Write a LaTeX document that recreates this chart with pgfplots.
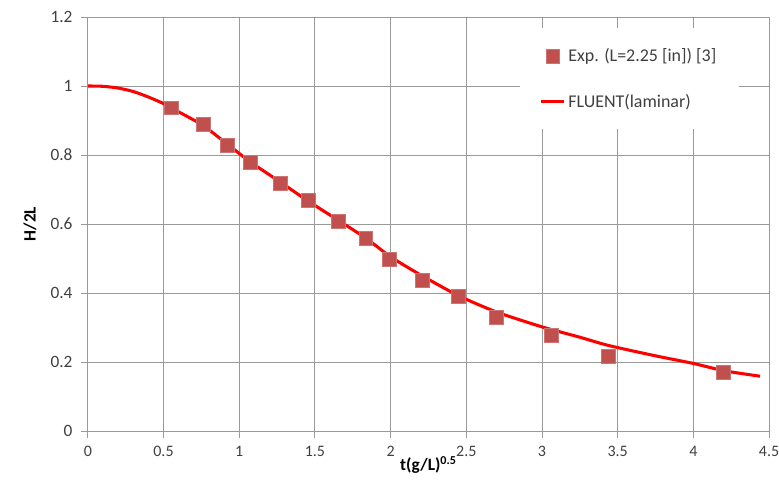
\documentclass[border=0pt]{standalone}
\usepackage{pgfplots}
\pgfplotsset{compat=1.18}
\usepackage{fontspec}
\setmainfont{Carlito}
\definecolor{expred}{HTML}{C0504D}
\definecolor{gridgray}{HTML}{9A9A9A}
\definecolor{ticktext}{HTML}{404040}
\begin{document}
\begin{tikzpicture}
\begin{axis}[
    scale only axis,
    width=512pt, height=311.25pt,
    xmin=0, xmax=4.5, ymin=0, ymax=1.2,
    xtick={0,0.5,...,4.5}, ytick={0,0.2,...,1.2},
    grid=major,
    major grid style={gridgray, line width=0.6pt},
    axis line style={gridgray, line width=0.6pt},
    tick style={gridgray, line width=0.6pt},
    tick align=outside, major tick length=5pt,
    axis x line*=bottom, axis y line*=left,
    xticklabel style={ticktext, font=\fontsize{12}{13}\selectfont, yshift=-3pt},
    yticklabel style={ticktext, font=\fontsize{13}{14}\selectfont, xshift=-3pt},
    /pgf/number format/assume math mode=true,
    xlabel={\textbf{t(g/L)\textsuperscript{0.5}}},
    ylabel={\textbf{H/2L}},
    xlabel style={font=\fontsize{13}{14}\selectfont, at={(axis description cs:0.5,0)}, anchor=center, yshift=-25.5pt},
    ylabel style={font=\fontsize{13}{14}\selectfont, at={(axis description cs:0,0.5)}, anchor=center, yshift=43.5pt},
    legend style={at={(0.634,0.973)}, anchor=north west, draw=none, fill=white,
        font=\fontsize{13.5}{15}\selectfont, text=ticktext, inner xsep=15pt, inner ysep=13pt,
        row sep=19pt, cells={anchor=west}},
    legend cell align=left,
]
\addplot[only marks, mark=square*, mark size=5.2pt, mark options={draw=expred!80!white, fill=expred}]
coordinates {
(0.553,0.937) (0.760,0.889) (0.922,0.828) (1.074,0.778) (1.274,0.719)
(1.454,0.669) (1.656,0.608) (1.836,0.559) (1.994,0.499) (2.212,0.437)
(2.446,0.390) (2.699,0.330) (3.059,0.278) (3.437,0.217) (4.196,0.170)
};
\addlegendentry{Exp. (L=2.25 [in]) [3]}
\addplot[red, line width=2.3pt, smooth, tension=0.4]
coordinates {
(0,1.0) (0.1,0.999) (0.2,0.994) (0.3,0.984) (0.4,0.968) (0.5,0.949) (0.6,0.925)
(0.76,0.886) (0.92,0.832) (1.07,0.781) (1.27,0.722) (1.45,0.668)
(1.65,0.612) (1.84,0.558) (2.0,0.505) (2.2,0.452) (2.45,0.392)
(2.7,0.345) (3.0,0.302) (3.25,0.272) (3.44,0.248) (3.75,0.218)
(4.0,0.196) (4.2,0.175) (4.44,0.159)
};
\addlegendentry{FLUENT(laminar)}
\end{axis}
\pgfresetboundingbox
\path[use as bounding box] ([shift={(-66pt,-44.25pt)}]current axis.south west)
    rectangle ([shift={(7.5pt,12.75pt)}]current axis.north east);
\end{tikzpicture}
\end{document}
